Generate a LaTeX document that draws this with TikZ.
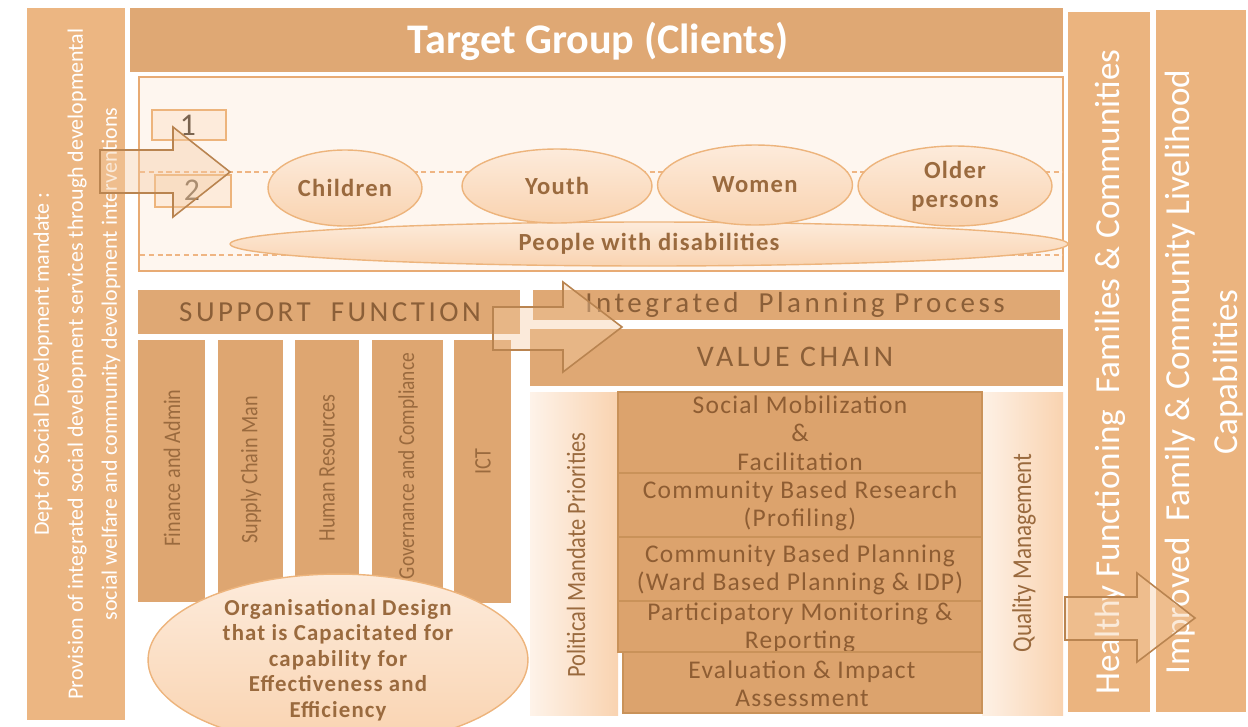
\documentclass[tikz,border=0pt]{standalone}
\usepackage{fontspec}
\setmainfont{Carlito}
\newfontfamily\narrowfont[FakeStretch=0.85]{Carlito}
\newfontfamily\spacedfont[LetterSpace=5]{Carlito}
\newfontfamily\widefont[LetterSpace=12]{Carlito}
\usetikzlibrary{shapes.geometric}

\definecolor{headfill}{HTML}{DFA874}
\definecolor{sidefill}{HTML}{ECB682}
\definecolor{outfill}{HTML}{EBB47F}
\definecolor{panelfill}{HTML}{FEF6EF}
\definecolor{panelline}{HTML}{E8AB74}
\definecolor{ovaltop}{HTML}{FDEBDB}
\definecolor{ovalbottom}{HTML}{F9D3B0}
\definecolor{ovalline}{HTML}{EDB47C}
\definecolor{colfill}{HTML}{DEA671}
\definecolor{stackfill}{HTML}{DCA36D}
\definecolor{stackline}{HTML}{C99259}
\definecolor{arrowline}{HTML}{B98450}
\definecolor{arrowfill}{HTML}{F4CBA2}
\definecolor{dotline}{HTML}{EFB583}
\definecolor{textbrown}{HTML}{9A6A3E}
\definecolor{stacktext}{HTML}{8E5D33}
\definecolor{numgray}{HTML}{7A6450}

\begin{document}
\begin{tikzpicture}[x=0.02cm, y=-0.02cm,
  whitetext/.style={text=white, rotate=90, align=center},
  browntext/.style={text=textbrown, align=center},
  oval/.style={ellipse, draw=ovalline, line width=0.8pt, top color=ovaltop, bottom color=ovalbottom, inner sep=0pt, browntext, font=\spacedfont\bfseries\fontsize{14}{16.5}\selectfont},
  column/.style={browntext, rotate=90, font=\narrowfont\fontsize{13.5}{16}\selectfont},
  stackrow/.style={fill=stackfill, draw=stackline, line width=0.6pt},
  rowtext/.style={text=stacktext, align=center, font=\spacedfont\fontsize{14.5}{16.2}\selectfont},
  bartext/.style={text=textbrown!90!black, font=\widefont\fontsize{16.5}{18}\selectfont},
  blockarrow/.style={draw=arrowline, fill=arrowfill, fill opacity=0.4, line width=0.9pt, line join=miter}]
\useasboundingbox (0,0) rectangle (1248,727);

% mandate column on the left
\fill[sidefill] (27,8) rectangle (125,720) (77,364) node[whitetext, font=\fontsize{12.5}{19.3}\selectfont] (mandate) {Dept of Social Development mandate :\\Provision of integrated social development services through developmental\\social welfare and community development interventions};

% target group
\fill[headfill] (130,8) rectangle (1063,72) (598,41) node[text=white, font=\bfseries\fontsize{24}{26}\selectfont] (target) {Target Group (Clients)};
\filldraw[fill=panelfill, draw=panelline, line width=1pt] (139,77) rectangle (1063,271);
\draw[dotline, densely dashed, line width=0.6pt] (140,172) -- (1063,172);
\draw[dotline, densely dashed, line width=0.6pt] (140,255) -- (1063,255);
\filldraw[fill=ovaltop, draw=ovalline, line width=0.8pt] (152,110) rectangle (226,140) (188,125) node[text=numgray, font=\fontsize{18}{20}\selectfont] (one) {1};
\filldraw[fill=ovaltop, draw=ovalline, line width=0.8pt] (155,175) rectangle (231,207) (192,190) node[text=numgray, font=\fontsize{18}{20}\selectfont] (two) {2};

\node[oval, minimum width=16.76cm, minimum height=0.88cm] (disabled) at (649,244) {People with disabilities};
\node[oval, minimum width=3.08cm, minimum height=1.52cm] (children) at (345,188) {Children};
\node[oval, minimum width=3.8cm, minimum height=1.48cm] (youth) at (557,186) {Youth};
\node[oval, minimum width=3.9cm, minimum height=1.6cm] (women) at (755,185) {Women};
\node[oval, minimum width=3.88cm, minimum height=1.6cm] (older) at (955,186) {Older\\persons};

% support function
\fill[headfill] (138,290) rectangle (520,334) (330,312) node[bartext] (support) {SUPPORT\ \ FUNCTION};
\fill[colfill] (138,340) rectangle (205,602) (172,468) node[column] (finance) {Finance and Admin};
\fill[colfill] (218,340) rectangle (283,600) (251,470) node[column] (supply) {Supply Chain Man};
\fill[colfill] (295,340) rectangle (359,600) (327,468) node[column] (human) {Human Resources};
\fill[colfill] (372,340) rectangle (443,596) (408,466) node[column, font=\narrowfont\fontsize{13}{15}\selectfont] (governance) {Governance and Compliance};
\fill[colfill] (454,340) rectangle (511,603) (483,462) node[column] (ict) {ICT};
\node[oval, minimum width=7.6cm, minimum height=2.56cm, font=\spacedfont\bfseries\fontsize{13}{14.5}\selectfont] (design) at (338,660) {Organisational Design\\that is Capacitated for\\capability for\\Effectiveness and\\Efficiency};

% planning and value chain
\fill[headfill] (533,290) rectangle (1060,320) (795,305) node[bartext] (planning) {Integrated\ \ Planning Process};
\fill[headfill] (530,329) rectangle (1063,386) (795,357) node[bartext, font=\widefont\fontsize{17}{19}\selectfont] (value) {VALUE CHAIN};

\shade[left color=ovaltop!60!white, right color=ovalbottom] (530,392) rectangle (618,715) (576,555) node[column, font=\narrowfont\fontsize{15}{17}\selectfont] (political) {Political Mandate Priorities};
\shade[left color=ovaltop!70!white, right color=ovalbottom] (982,392) rectangle (1063,715) (1024,553) node[column, font=\narrowfont\fontsize{15.5}{17}\selectfont] (quality) {Quality Management};
\filldraw[stackrow] (618,392) rectangle (982,473) (800,433) node[rowtext] (mobilize) {Social Mobilization\\\&\\Facilitation};
\filldraw[stackrow] (618,473) rectangle (982,537) (800,506) node[rowtext] (research) {Community Based Research\\(Profiling)};
\filldraw[stackrow] (618,537) rectangle (982,601) (800,570) node[rowtext] (wardplan) {Community Based Planning\\(Ward Based Planning \& IDP)};
\filldraw[stackrow] (618,601) rectangle (982,652) (800,628) node[rowtext] (monitor) {Participatory Monitoring \&\\Reporting};
\filldraw[stackrow] (623,652) rectangle (982,713) (802,684) node[rowtext] (evaluate) {Evaluation \& Impact\\Assessment};

% outcome columns
\fill[outfill] (1068,12) rectangle (1150,712) (1110,372) node[whitetext, font=\fontsize{20}{27}\selectfont] (healthy) {Healthy Functioning\ \ Families \& Communities};
\fill[outfill] (1156,10) rectangle (1246,712) (1204,372) node[whitetext, font=\fontsize{20}{27}\selectfont] (improved) {Improved\ \ Family \& Community Livelihood\\Capabilities};

% block arrows
\draw[blockarrow] (100,150) -- (173,150) -- (173,127) -- (230,172) -- (173,217) -- (173,193) -- (100,193) -- cycle;
\draw[blockarrow] (493,307) -- (563,307) -- (563,282) -- (622,327) -- (563,372) -- (563,350) -- (493,350) -- cycle;
\draw[blockarrow] (1065,597) -- (1137,597) -- (1137,573) -- (1195,618) -- (1137,662) -- (1137,640) -- (1065,640) -- cycle;
\end{tikzpicture}
\end{document}
